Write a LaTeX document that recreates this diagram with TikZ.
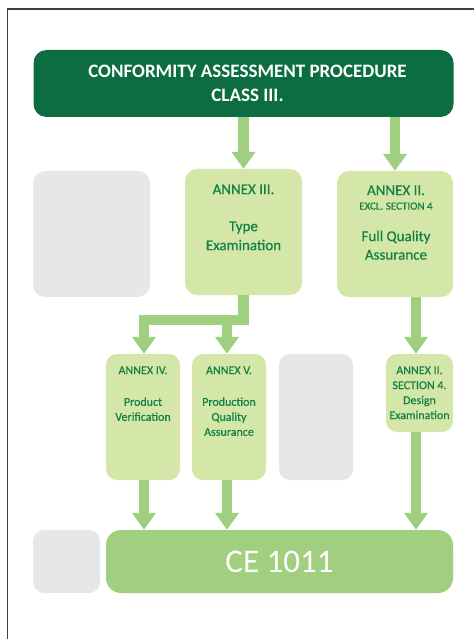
\documentclass[tikz,border=0pt]{standalone}
\usepackage{fontspec}
\setmainfont{Carlito}
\newfontfamily\annexfont{Carlito}[FakeBold=0.6]
\usetikzlibrary{arrows.meta}
\definecolor{darkgreen}{RGB}{12,110,64}
\definecolor{palegreen}{RGB}{212,230,168}
\definecolor{arrowgreen}{RGB}{160,207,128}
\definecolor{textgreen}{RGB}{18,130,68}
\definecolor{lightgrey}{RGB}{230,231,233}
\definecolor{framegrey}{RGB}{64,64,64}
\begin{document}
\begin{tikzpicture}[x=1pt,y=-1pt,
	headbox/.style={fill=darkgreen,rounded corners=13pt,minimum width=420pt,minimum height=67pt,text=white,align=center,font=\fontsize{19}{23.5}\selectfont\bfseries},
	annexbox/.style={fill=palegreen,rounded corners=12pt,inner sep=0pt},
	greybox/.style={fill=lightgrey,rounded corners=12pt,inner sep=0pt},
	annextext/.style={text=textgreen,align=center,anchor=north,inner sep=0pt},
	flow/.style={draw=arrowgreen,line width=10.5pt,line join=miter,-{Triangle[width=23pt,length=17pt]}}]
		\useasboundingbox (0,0) rectangle (474,639);
		% frame
		\draw[framegrey,line width=1.5pt] (7.5,639) -- (7.5,9) -- (474,9);
		% boxes
		\node[headbox] (head) at (243.5,83.5) {\hspace*{8pt}CONFORMITY ASSESSMENT PROCEDURE\\\hspace*{8pt}CLASS III.};
		\node[greybox,minimum width=117pt,minimum height=126pt] (g1) at (91.5,234) {};
		\node[annexbox,minimum width=117pt,minimum height=126pt] (iii) at (243.5,232) {};
		\node[annexbox,minimum width=116pt,minimum height=126pt] (ii) at (395,234) {};
		\node[annexbox,minimum width=74pt,minimum height=126pt,rounded corners=11pt] (iv) at (143,417) {};
		\node[annexbox,minimum width=74pt,minimum height=126pt,rounded corners=11pt] (v) at (229,417) {};
		\node[greybox,minimum width=74pt,minimum height=126pt,rounded corners=11pt] (g2) at (316,417) {};
		\node[annexbox,minimum width=67pt,minimum height=78pt,rounded corners=11pt] (sec4) at (419.5,393) {};
		\node[greybox,minimum width=67pt,minimum height=63pt,rounded corners=11pt] (g3) at (66.5,561.5) {};
		\node[fill=arrowgreen,rounded corners=15pt,minimum width=347pt,minimum height=63pt,text=white,font=\fontsize{33}{36}\selectfont] (ce) at (279.5,561.5) {CE 1011};
		% texts
		\node[annextext,font=\annexfont\fontsize{15}{19}\selectfont] (iii-t) at (243.5,184.3) {ANNEX III.\\[18pt]Type\\Examination};
		\node[annextext,font=\annexfont\fontsize{15}{18.5}\selectfont] (ii-t) at (396,185.3) {ANNEX II.\\[-4pt]{\fontsize{11}{13}\selectfont EXCL. SECTION 4}\\[13pt]Full Quality\\Assurance};
		\node[annextext,font=\annexfont\fontsize{12}{15}\selectfont] (iv-t) at (143,366.2) {ANNEX IV.\\[16.7pt]Product\\Verification};
		\node[annextext,font=\annexfont\fontsize{12}{15}\selectfont] (v-t) at (229,366.2) {ANNEX V.\\[16.7pt]Production\\Quality\\Assurance};
		\node[annextext,font=\annexfont\fontsize{12}{15}\selectfont] (sec4-t) at (419.5,366.2) {ANNEX II.\\SECTION 4.\\Design\\Examination};
		% arrows
		\coordinate (bar) at (0,320);
		\coordinate (colL) at (144,0);
		\coordinate (colM) at (227,0);
		\coordinate (colR) at (416,0);
		\draw[flow] (head.south -| iii.north) -- (iii.north);
		\draw[flow] (head.south -| ii.north) -- (ii.north);
		\draw[flow] (iii.south) |- (bar -| colL) -- (iv.north -| colL);
		\draw[flow] (bar -| colM) -- (v.north -| colM);
		\draw[flow] (ii.south -| colR) -- (sec4.north -| colR);
		\draw[flow] (iv.south -| colL) -- (ce.north -| colL);
		\draw[flow] (v.south -| colM) -- (ce.north -| colM);
		\draw[flow] (sec4.south -| colR) -- (ce.north -| colR);
\end{tikzpicture}
\end{document}
